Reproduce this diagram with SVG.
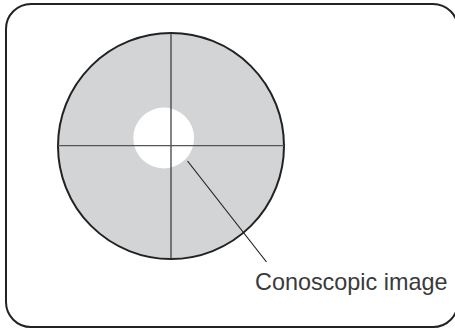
<svg xmlns="http://www.w3.org/2000/svg" width="455" height="329" viewBox="0 0 455 329">
<style>
.frame{fill:none;stroke:#222;stroke-width:2}
.disc{fill:#d3d4d6;stroke:#222;stroke-width:2}
.hole{fill:#fff;stroke:none}
.cross{stroke:#333;stroke-width:1.2}
.lead{stroke:#222;stroke-width:1.2;fill:none}
.lbl{font-family:"Liberation Sans",Arial,sans-serif;font-size:23.4px;fill:#3a3a3a}
</style>
<rect width="455" height="329" fill="#fff"/>
<g id="frame"><rect class="frame" x="6" y="4" width="452" height="323" rx="25" ry="25"/></g>
<g id="disc">
<circle class="disc" cx="171" cy="146" r="113"/>
<circle class="hole" cx="163.7" cy="138" r="30.4"/>
<line class="cross" x1="171" y1="33" x2="171" y2="259"/>
<line class="cross" x1="58" y1="145.7" x2="284" y2="145.7" style="stroke:#555"/>
</g>
<g id="connectors"><line class="lead" x1="187.5" y1="161" x2="266.5" y2="262"/></g>
<g id="label"><text class="lbl" x="255" y="289.5">Conoscopic image</text></g>
</svg>
